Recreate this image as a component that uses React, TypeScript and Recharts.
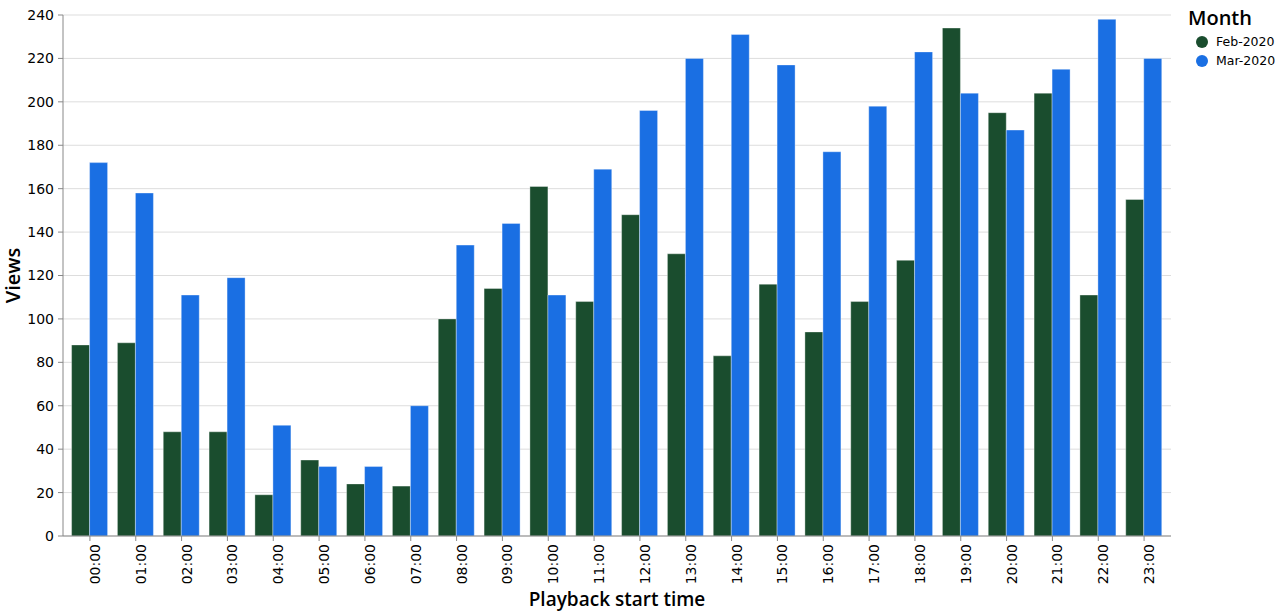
import React from 'react';
import { BarChart, Bar, XAxis, YAxis, CartesianGrid, Legend, Label } from 'recharts';

const hours = [
  '00:00', '01:00', '02:00', '03:00', '04:00', '05:00', '06:00', '07:00',
  '08:00', '09:00', '10:00', '11:00', '12:00', '13:00', '14:00', '15:00',
  '16:00', '17:00', '18:00', '19:00', '20:00', '21:00', '22:00', '23:00',
];

const feb2020 = [88, 89, 48, 48, 19, 35, 24, 23, 100, 114, 161, 108, 148, 130, 83, 116, 94, 108, 127, 234, 195, 204, 111, 155];
const mar2020 = [172, 158, 111, 119, 51, 32, 32, 60, 134, 144, 111, 169, 196, 220, 231, 217, 177, 198, 223, 204, 187, 215, 238, 220];

const yTicks = [0, 20, 40, 60, 80, 100, 120, 140, 160, 180, 200, 220, 240];

const series = [
  { key: 'feb', name: 'Feb-2020', color: '#1a4d2e' },
  { key: 'mar', name: 'Mar-2020', color: '#1a6fe3' },
];

const data = hours.map((h, i) => ({ hour: h, feb: feb2020[i], mar: mar2020[i] }));

const TICK_FONT = '"DejaVu Sans", sans-serif';
const TITLE_FONT = '"Open Sans", sans-serif';

const MonthLegend = () => (
  <div style={{ fontFamily: TICK_FONT, color: '#000', textAlign: 'left' }}>
    <div style={{ fontFamily: TITLE_FONT, fontWeight: 600, fontSize: 20, lineHeight: '24px', marginBottom: 2 }}>Month</div>
    {series.map(s => (
      <div key={s.key} style={{ display: 'flex', alignItems: 'center', height: 19, fontSize: 12.5 }}>
        <span style={{ width: 12, height: 12, borderRadius: 6, background: s.color, display: 'inline-block', marginLeft: 8, marginRight: 8 }} />
        <span>{s.name}</span>
      </div>
    ))}
  </div>
);

const App: React.FC = () => {
  return (
    <div style={{ position: 'absolute', left: 0, top: 0, background: '#fff' }}>
      <BarChart
        width={1280}
        height={612}
        data={data}
        margin={{ top: 15, right: 109, bottom: 0, left: 0 }}
        barCategoryGap="10%"
        barGap={0}
      >
        <CartesianGrid vertical={false} stroke="#dddddd" />
        <XAxis
          dataKey="hour"
          interval={0}
          height={76}
          padding={{ left: 4, right: 4 }}
          tickSize={5}
          tickMargin={3}
          stroke="#888"
          tick={{ angle: -90, textAnchor: 'end', verticalAnchor: 'middle', fill: '#000', fontSize: 14, fontFamily: TICK_FONT }}
        >
          <Label value="Playback start time" position="insideBottom" offset={6} style={{ fontFamily: TITLE_FONT, fontWeight: 600, fontSize: 19, fill: '#000' }} />
        </XAxis>
        <YAxis
          domain={[0, 240]}
          ticks={yTicks}
          width={63}
          tickSize={5}
          tickMargin={4}
          stroke="#888"
          tick={{ fill: '#000', fontSize: 14, fontFamily: TICK_FONT }}
        >
          <Label value="Views" angle={-90} position="insideLeft" offset={13} style={{ fontFamily: TITLE_FONT, fontWeight: 600, fontSize: 20, fill: '#000', textAnchor: 'middle' }} />
        </YAxis>
        <YAxis yAxisId="frame" orientation="right" width={0} tick={false} tickLine={false} stroke="#dddddd" domain={[0, 240]} />
        <Legend
          layout="horizontal"
          align="center"
          verticalAlign="middle"
          content={<MonthLegend />}
          wrapperStyle={{ left: 1188, top: 6, width: 92 }}
        />
        {series.map(s => (
          <Bar
            key={s.key}
            dataKey={s.key}
            name={s.name}
            fill={s.color}
            stroke="#ffffff"
            strokeOpacity={0.35}
            strokeWidth={1}
            isAnimationActive={false}
          />
        ))}
      </BarChart>
    </div>
  );
};

export default App;
